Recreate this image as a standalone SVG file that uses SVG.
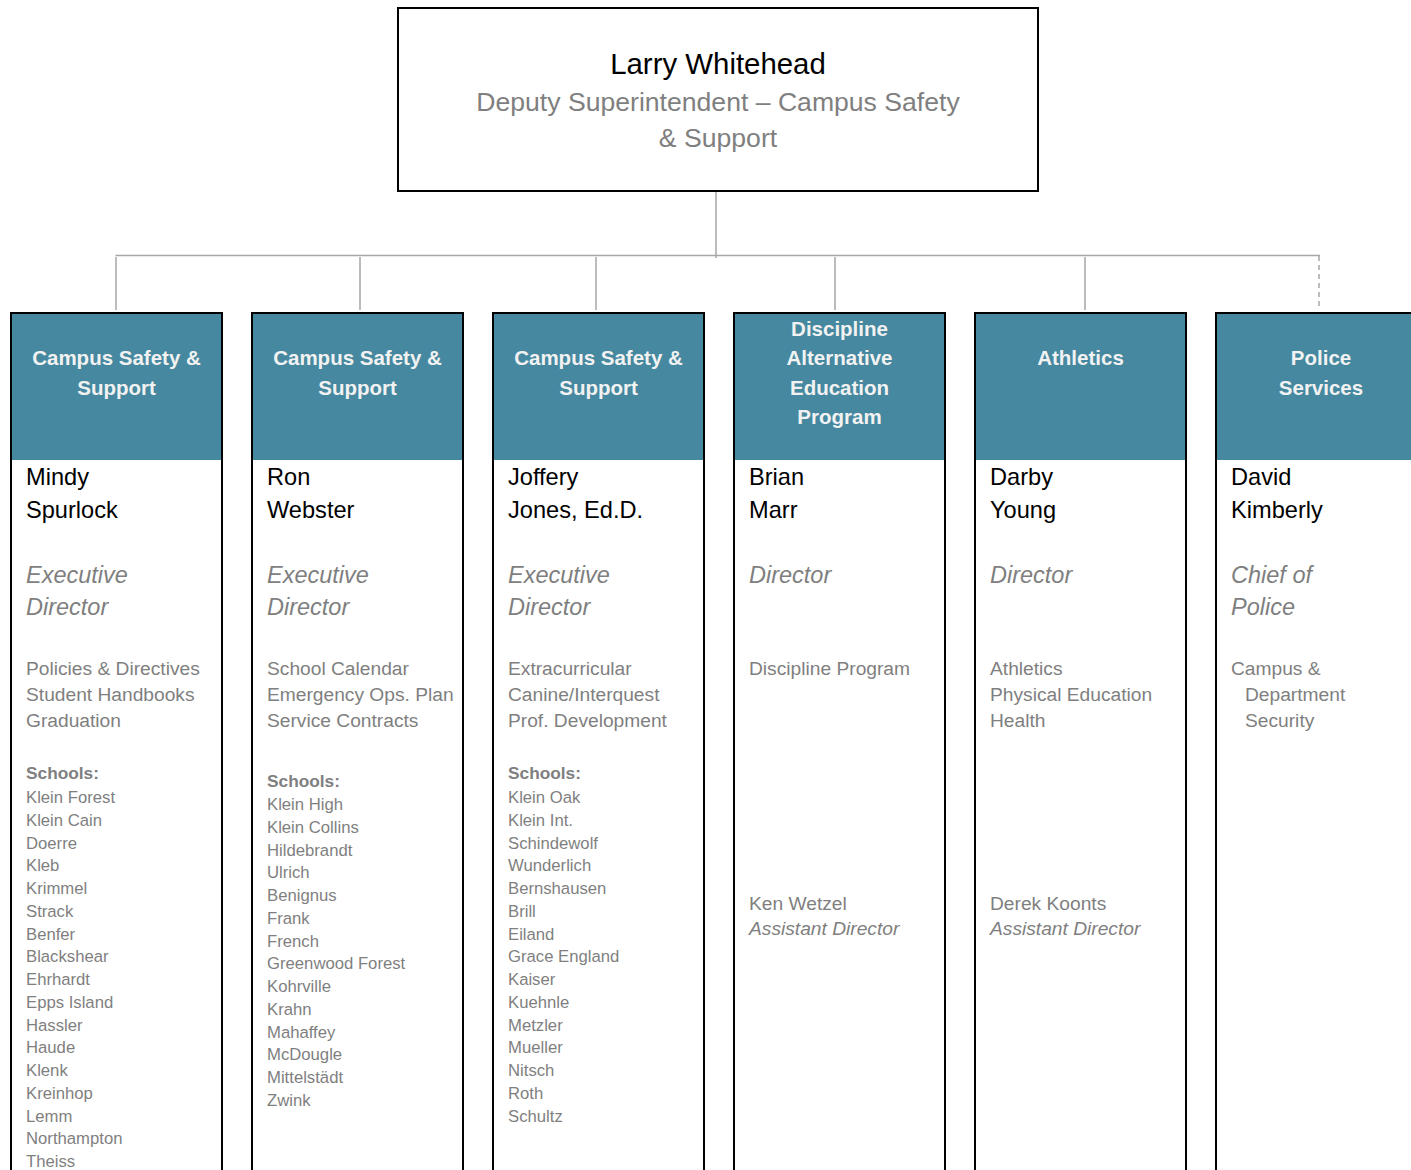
<svg xmlns="http://www.w3.org/2000/svg" width="1411" height="1170" viewBox="0 0 1411 1170">
<style>
text{font-family:"Liberation Sans",Arial,sans-serif}
.box{fill:#fff;stroke:#000;stroke-width:2}
.hdr{fill:#45889f}
.ht{fill:#f2f2f2;font-weight:bold;font-size:20.5px;text-anchor:middle}
.nm{fill:#000;font-size:23.6px}
.ti{fill:#7f7f7f;font-size:23.5px;font-style:italic}
.du{fill:#7f7f7f;font-size:19.2px}
.sh{fill:#7f7f7f;font-size:17.3px;font-weight:bold}
.sc{fill:#7f7f7f;font-size:16.7px}
.it{font-style:italic}
.conn{stroke:#a6a6a6;stroke-width:1.5;fill:none}
</style>
<rect width="1411" height="1170" fill="#fff"/>
<g id="connectors">
<line class="conn" x1="716" y1="191" x2="716" y2="258"/>
<line class="conn" x1="115.5" y1="255.5" x2="1320" y2="255.5"/>
<line class="conn" x1="116" y1="257" x2="116" y2="310"/>
<line class="conn" x1="360" y1="257" x2="360" y2="310"/>
<line class="conn" x1="596" y1="257" x2="596" y2="310"/>
<line class="conn" x1="835" y1="257" x2="835" y2="310"/>
<line class="conn" x1="1085" y1="257" x2="1085" y2="310"/>
<line class="conn" x1="1319" y1="256" x2="1319" y2="308" stroke-dasharray="5,4"/>
</g>
<g id="top">
<rect class="box" x="398" y="8" width="640" height="183"/>
<text x="718" y="74" font-size="29.4" text-anchor="middle" fill="#000">Larry Whitehead</text>
<text x="718" y="111" font-size="26.6" text-anchor="middle" fill="#7f7f7f">Deputy Superintendent – Campus Safety</text>
<text x="718" y="147" font-size="26.6" text-anchor="middle" fill="#7f7f7f">&amp; Support</text>
</g>
<g id="col1">
<rect class="box" x="11" y="313" width="211" height="900"/>
<rect class="hdr" x="12" y="314" width="209" height="146"/>
<text class="ht" x="116.5" y="365">Campus Safety &amp;</text>
<text class="ht" x="116.5" y="395">Support</text>
<text class="nm" x="26" y="485">Mindy</text>
<text class="nm" x="26" y="518">Spurlock</text>
<text class="ti" x="26" y="583">Executive</text>
<text class="ti" x="26" y="615">Director</text>
<text class="du" x="26" y="675">Policies &amp; Directives</text>
<text class="du" x="26" y="701">Student Handbooks</text>
<text class="du" x="26" y="727">Graduation</text>
<text class="sh" x="26" y="779">Schools:</text>
<text class="sc" x="26" y="803">Klein Forest</text>
<text class="sc" x="26" y="825.75">Klein Cain</text>
<text class="sc" x="26" y="848.5">Doerre</text>
<text class="sc" x="26" y="871.25">Kleb</text>
<text class="sc" x="26" y="894">Krimmel</text>
<text class="sc" x="26" y="916.75">Strack</text>
<text class="sc" x="26" y="939.5">Benfer</text>
<text class="sc" x="26" y="962.25">Blackshear</text>
<text class="sc" x="26" y="985">Ehrhardt</text>
<text class="sc" x="26" y="1007.75">Epps Island</text>
<text class="sc" x="26" y="1030.5">Hassler</text>
<text class="sc" x="26" y="1053.25">Haude</text>
<text class="sc" x="26" y="1076">Klenk</text>
<text class="sc" x="26" y="1098.75">Kreinhop</text>
<text class="sc" x="26" y="1121.5">Lemm</text>
<text class="sc" x="26" y="1144.25">Northampton</text>
<text class="sc" x="26" y="1167">Theiss</text>
</g>
<g id="col2">
<rect class="box" x="252" y="313" width="211" height="900"/>
<rect class="hdr" x="253" y="314" width="209" height="146"/>
<text class="ht" x="357.5" y="365">Campus Safety &amp;</text>
<text class="ht" x="357.5" y="395">Support</text>
<text class="nm" x="267" y="485">Ron</text>
<text class="nm" x="267" y="518">Webster</text>
<text class="ti" x="267" y="583">Executive</text>
<text class="ti" x="267" y="615">Director</text>
<text class="du" x="267" y="675">School Calendar</text>
<text class="du" x="267" y="701">Emergency Ops. Plan</text>
<text class="du" x="267" y="727">Service Contracts</text>
<text class="sh" x="267" y="787">Schools:</text>
<text class="sc" x="267" y="810">Klein High</text>
<text class="sc" x="267" y="832.75">Klein Collins</text>
<text class="sc" x="267" y="855.5">Hildebrandt</text>
<text class="sc" x="267" y="878.25">Ulrich</text>
<text class="sc" x="267" y="901">Benignus</text>
<text class="sc" x="267" y="923.75">Frank</text>
<text class="sc" x="267" y="946.5">French</text>
<text class="sc" x="267" y="969.25">Greenwood Forest</text>
<text class="sc" x="267" y="992">Kohrville</text>
<text class="sc" x="267" y="1014.75">Krahn</text>
<text class="sc" x="267" y="1037.5">Mahaffey</text>
<text class="sc" x="267" y="1060.25">McDougle</text>
<text class="sc" x="267" y="1083">Mittelstädt</text>
<text class="sc" x="267" y="1105.75">Zwink</text>
</g>
<g id="col3">
<rect class="box" x="493" y="313" width="211" height="900"/>
<rect class="hdr" x="494" y="314" width="209" height="146"/>
<text class="ht" x="598.5" y="365">Campus Safety &amp;</text>
<text class="ht" x="598.5" y="395">Support</text>
<text class="nm" x="508" y="485">Joffery</text>
<text class="nm" x="508" y="518">Jones, Ed.D.</text>
<text class="ti" x="508" y="583">Executive</text>
<text class="ti" x="508" y="615">Director</text>
<text class="du" x="508" y="675">Extracurricular</text>
<text class="du" x="508" y="701">Canine/Interquest</text>
<text class="du" x="508" y="727">Prof. Development</text>
<text class="sh" x="508" y="779">Schools:</text>
<text class="sc" x="508" y="803">Klein Oak</text>
<text class="sc" x="508" y="825.75">Klein Int.</text>
<text class="sc" x="508" y="848.5">Schindewolf</text>
<text class="sc" x="508" y="871.25">Wunderlich</text>
<text class="sc" x="508" y="894">Bernshausen</text>
<text class="sc" x="508" y="916.75">Brill</text>
<text class="sc" x="508" y="939.5">Eiland</text>
<text class="sc" x="508" y="962.25">Grace England</text>
<text class="sc" x="508" y="985">Kaiser</text>
<text class="sc" x="508" y="1007.75">Kuehnle</text>
<text class="sc" x="508" y="1030.5">Metzler</text>
<text class="sc" x="508" y="1053.25">Mueller</text>
<text class="sc" x="508" y="1076">Nitsch</text>
<text class="sc" x="508" y="1098.75">Roth</text>
<text class="sc" x="508" y="1121.5">Schultz</text>
</g>
<g id="col4">
<rect class="box" x="734" y="313" width="211" height="900"/>
<rect class="hdr" x="735" y="314" width="209" height="146"/>
<text class="ht" x="839.5" y="335.5">Discipline</text>
<text class="ht" x="839.5" y="365">Alternative</text>
<text class="ht" x="839.5" y="394.5">Education</text>
<text class="ht" x="839.5" y="424">Program</text>
<text class="nm" x="749" y="485">Brian</text>
<text class="nm" x="749" y="518">Marr</text>
<text class="ti" x="749" y="583">Director</text>
<text class="du" x="749" y="675">Discipline Program</text>
<text class="du" x="749" y="910">Ken Wetzel</text>
<text class="du it" x="749" y="935">Assistant Director</text>
</g>
<g id="col5">
<rect class="box" x="975" y="313" width="211" height="900"/>
<rect class="hdr" x="976" y="314" width="209" height="146"/>
<text class="ht" x="1080.5" y="365">Athletics</text>
<text class="nm" x="990" y="485">Darby</text>
<text class="nm" x="990" y="518">Young</text>
<text class="ti" x="990" y="583">Director</text>
<text class="du" x="990" y="675">Athletics</text>
<text class="du" x="990" y="701">Physical Education</text>
<text class="du" x="990" y="727">Health</text>
<text class="du" x="990" y="910">Derek Koonts</text>
<text class="du it" x="990" y="935">Assistant Director</text>
</g>
<g id="col6">
<rect class="box" x="1216" y="313" width="211" height="900"/>
<rect class="hdr" x="1217" y="314" width="209" height="146"/>
<text class="ht" x="1321" y="365">Police</text>
<text class="ht" x="1321" y="395">Services</text>
<text class="nm" x="1231" y="485">David</text>
<text class="nm" x="1231" y="518">Kimberly</text>
<text class="ti" x="1231" y="583">Chief of</text>
<text class="ti" x="1231" y="615">Police</text>
<text class="du" x="1231" y="675">Campus &amp;</text>
<text class="du" x="1245" y="701">Department</text>
<text class="du" x="1245" y="727">Security</text>
</g>
</svg>
